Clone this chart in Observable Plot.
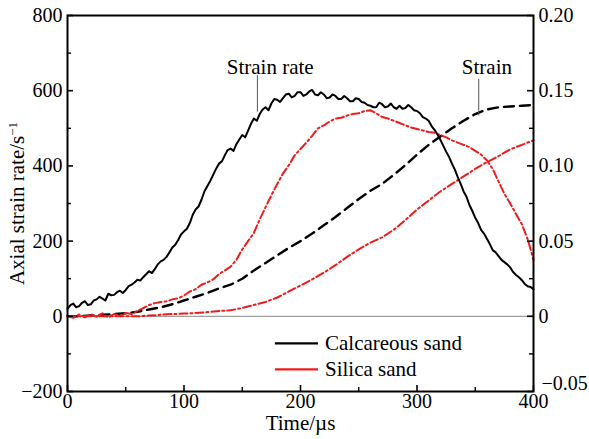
<!DOCTYPE html>
<html><head><meta charset="utf-8">
<script src="https://cdn.jsdelivr.net/npm/d3@7"></script>
<script src="https://cdn.jsdelivr.net/npm/@observablehq/plot@0.6"></script>
<style>body{margin:0;background:#fff}</style>
</head><body><div id="chart"></div>
<script>
// time grids (µs)
const timeFine = d3.range(0, 400.1, 2.5);
const time5 = d3.range(0, 401, 5);
const time10 = d3.range(0, 401, 10);

// Axial strain rate (1/s) of calcareous sand, every 2.5 µs
const calcareousRate = [
  20,30,34,24,27,36,40,30,32,42,
  45,52,47,42,60,56,57,64,68,62,
  70,80,84,90,97,95,104,112,120,115,
  126,138,146,150,158,170,183,190,203,218,
  226,233,248,270,284,292,310,332,346,360,
  376,392,406,412,428,442,446,440,458,470,
  482,476,494,512,526,520,538,550,556,548,
  566,578,576,570,580,590,592,582,586,596,
  596,586,590,598,602,590,588,596,590,580,
  582,590,586,578,578,586,580,572,572,580,
  578,570,568,562,560,556,556,568,564,556,
  558,566,556,552,560,552,554,562,556,548,
  546,540,530,526,520,506,496,484,470,454,
  438,424,406,390,370,352,332,318,296,280,
  262,248,230,220,206,192,176,170,160,150,
  144,138,130,118,110,104,96,86,80,78,
  72];
// Axial strain rate (1/s) of silica sand, every 5 µs
const silicaRate = [
  0,-4,5,-3,6,-1,8,-3,6,2,
  9,6,14,22,30,35,38,40,45,48,
  55,66,72,84,90,98,112,122,132,150,
  178,200,222,258,290,322,352,380,402,428,
  445,462,480,500,508,518,526,528,534,538,
  540,546,548,540,530,526,520,514,508,502,
  498,494,490,488,482,476,468,462,456,450,
  440,430,415,392,358,326,300,272,245,205,
  150];

// Axial strain (right axis), every 10 µs
const calcareousStrain = [
  0,0,0.0005,0.001,0.0015,0.002,0.003,0.0045,0.006,0.008,
  0.0105,0.013,0.0155,0.0185,0.021,0.025,0.0305,0.0355,0.0405,0.0455,
  0.050,0.055,0.0605,0.066,0.072,0.078,0.0835,0.088,0.094,0.1005,
  0.1075,0.114,0.1195,0.125,0.130,0.1345,0.1375,0.139,0.1395,0.140,
  0.1405];
const silicaStrain = [
  0,0,0,0,0,0,0,0.0005,0.001,0.0015,
  0.0018,0.0022,0.0028,0.0035,0.004,0.0055,0.0075,0.0095,0.0125,0.0165,
  0.0205,0.0245,0.029,0.034,0.0395,0.0445,0.049,0.0525,0.0575,0.064,
  0.071,0.077,0.083,0.088,0.093,0.098,0.1025,0.1065,0.111,0.114,
  0.117];

// axes
const leftTicks = [-200, 0, 200, 400, 600, 800];
const leftMinor = [-100, 100, 300, 500, 700];
const rightTickLabels = ["−0.05", "0", "0.05", "0.10", "0.15", "0.20"];
const xTicks = [0, 100, 200, 300, 400];
const xMinor = [50, 150, 250, 350];
const strainToRate = 4000; // 0.20 strain aligns with 800 s^-1

// annotations and legend
const annotations = [
  {label: "Strain rate", t: 174, v: 662, lt: 163, v1: 543, v2: 640},
  {label: "Strain", t: 360, v: 662, lt: 353, v1: 533, v2: 630}
];
const red = "#ee1c1c";
const legendItems = [
  {label: "Calcareous sand", color: "#000", dash: null, v: -72},
  {label: "Silica sand", color: red, dash: "8,3,2,3", v: -141}
];

const rateC = calcareousRate.map((v, i) => ({t: timeFine[i], v}));
const rateS = silicaRate.map((v, i) => ({t: time5[i], v}));
const strC = calcareousStrain.map((s, i) => ({t: time10[i], s}));
const strS = silicaStrain.map((s, i) => ({t: time10[i], s}));

const fmtLeft = d => d < 0 ? "−" + Math.abs(d) : String(d);
const fmtRight = d => rightTickLabels[leftTicks.indexOf(d)];

// inward tick lengths converted from pixels to data units
const W = 589, H = 439, mL = 67, mR = 56, mT = 15, mB = 48;
const xPerPx = 400 / (W - mL - mR);
const yPerPx = 1000 / (H - mT - mB);
const tickMajor = 6, tickMinor = 4;

const chart = Plot.plot({
  width: W, height: H,
  marginLeft: mL, marginRight: mR, marginTop: mT, marginBottom: mB,
  x: {domain: [0, 400]},
  y: {domain: [-200, 800]},
  style: {fontFamily: "'Liberation Serif', 'Times New Roman', serif", fontSize: "20px", background: "#fff", color: "#000"},
  marks: [
    Plot.ruleY([0], {stroke: "#888", strokeWidth: 1}),
    Plot.line(strC, {x: "t", y: d => d.s * strainToRate, stroke: "#000", strokeWidth: 2.4, strokeDasharray: "10,6"}),
    Plot.line(strS, {x: "t", y: d => d.s * strainToRate, stroke: red, strokeWidth: 2, strokeDasharray: "8,3,2,3"}),
    Plot.line(rateS, {x: "t", y: "v", stroke: red, strokeWidth: 2, strokeDasharray: "8,3,2,3"}),
    Plot.line(rateC, {x: "t", y: "v", stroke: "#000", strokeWidth: 2}),
    // annotations
    Plot.ruleX(annotations, {x: "lt", y1: "v1", y2: "v2", stroke: "#555", strokeWidth: 1}),
    Plot.text(annotations, {x: "t", y: "v", text: "label", fontSize: 21}),
    // legend
    Plot.link(legendItems, {x1: 178, x2: 215, y1: "v", y2: "v", stroke: "color", strokeWidth: 2.2, strokeDasharray: "dash"}),
    Plot.text(legendItems, {x: 221, y: "v", text: "label", textAnchor: "start", fontSize: 21}),
    // inward ticks
    Plot.ruleY(leftTicks, {x1: 0, x2: tickMajor * xPerPx, stroke: "#000", strokeWidth: 1.6}),
    Plot.ruleY(leftMinor, {x1: 0, x2: tickMinor * xPerPx, stroke: "#000", strokeWidth: 1.4}),
    Plot.ruleY(leftTicks, {x1: 400 - tickMajor * xPerPx, x2: 400, stroke: "#000", strokeWidth: 1.6}),
    Plot.ruleY(leftMinor, {x1: 400 - tickMinor * xPerPx, x2: 400, stroke: "#000", strokeWidth: 1.4}),
    Plot.ruleX(xTicks, {y1: -200, y2: -200 + tickMajor * yPerPx, stroke: "#000", strokeWidth: 1.6}),
    Plot.ruleX(xMinor, {y1: -200, y2: -200 + tickMinor * yPerPx, stroke: "#000", strokeWidth: 1.4}),
    // tick labels
    Plot.axisY({anchor: "left", ticks: leftTicks, tickSize: 0, tickPadding: 5, tickFormat: fmtLeft, label: null}),
    Plot.axisY({anchor: "right", ticks: leftTicks.slice(1), tickSize: 0, tickPadding: 5, tickFormat: fmtRight, label: null}),
    Plot.axisY({anchor: "right", ticks: leftTicks.slice(0, 1), tickSize: 0, tickPadding: 8, dy: -8, tickFormat: fmtRight, label: null}),
    Plot.axisX({anchor: "bottom", ticks: xTicks, tickSize: 0, tickPadding: 2, tickFormat: d => String(d), label: null}),
    Plot.frame({stroke: "#000", strokeWidth: 2}),
    Plot.text(["Axial strain rate/s"], {frameAnchor: "left", dx: -50, rotate: -90, textAnchor: "middle", lineAnchor: "middle", fontSize: 21}),
    Plot.text(["Time/µs"], {frameAnchor: "bottom", dy: 32, textAnchor: "middle", lineAnchor: "middle", fontSize: 21})
  ]
});

d3.select(chart).selectAll("text")
  .filter(function () { return this.textContent === "Axial strain rate/s"; })
  .append("tspan").attr("dy", "-0.55em").attr("font-size", 13).text("−1");

document.getElementById("chart").appendChild(chart);
</script>
</body></html>
